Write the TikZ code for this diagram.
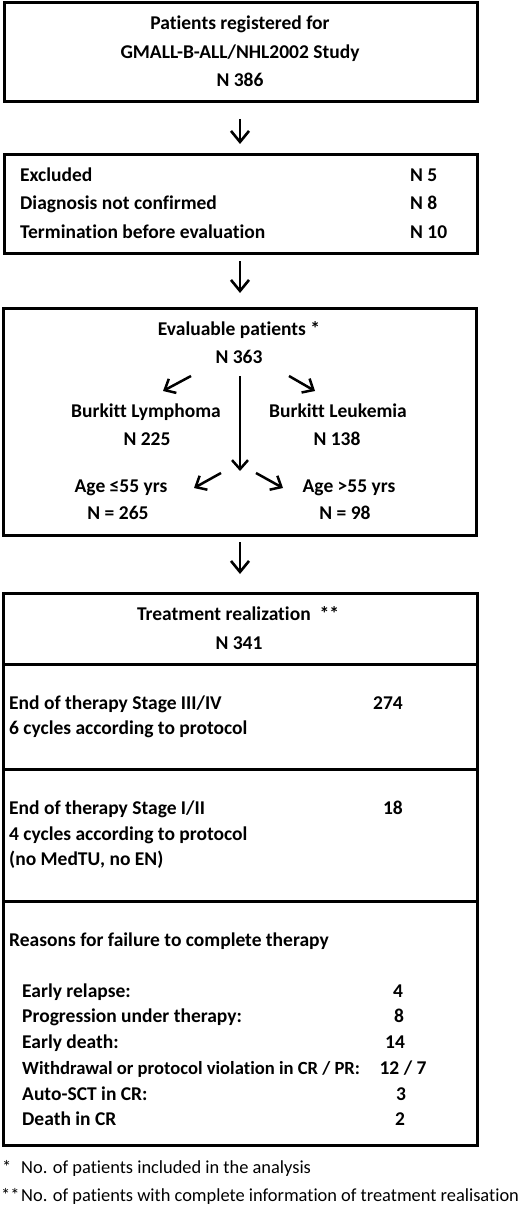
\documentclass[tikz,border=0pt]{standalone}
\usepackage{fontspec}
\setmainfont{Carlito}[RawFeature=-liga]
\usetikzlibrary{arrows.meta}
\begin{document}
\begin{tikzpicture}[x=1pt,y=-1pt,
  box/.style={draw, line width=3pt, rectangle, inner sep=0pt},
  t/.style={font=\fontsize{19.5}{22}\selectfont\bfseries, inner sep=0pt, anchor=base},
  tl/.style={t, anchor=base west},
  tr/.style={t, anchor=base east},
  fn/.style={font=\fontsize{18.4}{22}\selectfont, inner sep=0pt, anchor=base west},
  arr/.style={line width=2.6pt, -{Straight Barb[length=11pt,width=18pt,line width=2.6pt]}},
  darr/.style={line width=2.5pt, -{Straight Barb[length=9pt,width=16pt,line width=2.5pt]}}
]
\useasboundingbox (0,0) rectangle (520,1206);
% Box 1
\node[box, minimum width=473pt, minimum height=99pt] (b1) at (240.5,52.5) {};
\node[t] (b1a) at (240,30) {Patients registered for};
\node[t] (b1b) at (240,59) {GMALL-B-ALL/NHL2002 Study};
\node[t] (b1c) at (240,87) {N 386};
% Box 2
\node[box, minimum width=473pt, minimum height=98pt] (b2) at (240.5,204) {};
\node[tl] (ex) at (20,182) {Excluded};
\node[tl] (dn) at (20,210) {Diagnosis not confirmed};
\node[tl] (tb) at (20,238) {Termination before evaluation};
\node[tl] (exn) at (410,182) {N 5};
\node[tl] (dnn) at (410,210) {N 8};
\node[tl] (tbn) at (410,238) {N 10};
% Box 3
\node[box, minimum width=473pt, minimum height=227pt] (b3) at (240,421.5) {};
\node[t] (ev) at (239,335) {Evaluable patients *};
\node[t] (evn) at (239,363) {N 363};
\node[t] (bly) at (146,417) {Burkitt Lymphoma};
\node[t] (blyn) at (147,445) {N 225};
\node[t] (ble) at (338,417) {Burkitt Leukemia};
\node[t] (blen) at (337,445) {N 138};
\node[t] (ya) at (121,492) {Age ≤55 yrs};
\node[t] (yan) at (118,519) {N = 265};
\node[t] (oa) at (349,492) {Age >55 yrs};
\node[t] (oan) at (345,519) {N = 98};
% Box 4
\node[box, minimum width=474pt, minimum height=552pt] (b4) at (240,869) {};
\coordinate (d1l) at (3,664); \coordinate (d1r) at (477,664);
\coordinate (d2l) at (3,769); \coordinate (d2r) at (477,769);
\coordinate (d3l) at (3,901); \coordinate (d3r) at (477,901);
\draw[line width=3pt] (d1l) -- (d1r);
\draw[line width=3pt] (d2l) -- (d2r);
\draw[line width=3pt] (d3l) -- (d3r);
\node[t] (tr) at (238,620) {Treatment realization \ **};
\node[t] (trn) at (239,649) {N 341};
\node[tl] (s34a) at (9,709) {End of therapy Stage III/IV};
\node[tl] (s34b) at (9,734) {6 cycles according to protocol};
\node[tr] (s34n) at (403,709) {274};
\node[tl] (s12a) at (9,814) {End of therapy Stage I/II};
\node[tl] (s12b) at (9,840) {4 cycles according to protocol};
\node[tl] (s12c) at (9,865) {(no MedTU, no EN)};
\node[tr] (s12n) at (403,814) {18};
\node[tl] (rf) at (9,946) {Reasons for failure to complete therapy};
\node[tl] (r1) at (22,997) {Early relapse:};
\node[tl] (r2) at (22,1022) {Progression under therapy:};
\node[tl] (r3) at (22,1048) {Early death:};
\node[tl, font=\fontsize{18.6}{22}\selectfont\bfseries] (r4) at (22,1074) {Withdrawal or protocol violation in CR / PR:};
\node[tl] (r5) at (22,1100) {Auto-SCT in CR:};
\node[tl] (r6) at (22,1125) {Death in CR};
\node[t] (r1n) at (398,997) {4};
\node[t] (r2n) at (399,1022) {8};
\node[t] (r3n) at (395,1048) {14};
\node[t] (r4n) at (403,1074) {12 / 7};
\node[t] (r5n) at (401,1100) {3};
\node[t] (r6n) at (400,1125) {2};
% Footnotes
\node[fn] (f1s) at (2,1173) {*};
\node[fn] (f1) at (21,1173) {No. of patients included in the analysis};
\node[fn] (f2s) at (1,1201) {**};
\node[fn] (f2) at (21,1201) {No. of patients with complete information of treatment realisation};
% Arrows between boxes
\coordinate (a1s) at (240,119); \coordinate (a1e) at (240,144);
\coordinate (a2s) at (240,261); \coordinate (a2e) at (240,293);
\coordinate (a3s) at (240,542); \coordinate (a3e) at (240,574);
\draw[arr] (a1s) -- (a1e);
\draw[arr] (a2s) -- (a2e);
\draw[arr] (a3s) -- (a3e);
% Arrows inside box 3
\coordinate (l1s) at (191,376); \coordinate (l1e) at (163,391);
\coordinate (r1s) at (289,376); \coordinate (r1e) at (315,391);
\coordinate (vs) at (240,376); \coordinate (ve) at (240,471);
\coordinate (l2s) at (221,473); \coordinate (l2e) at (194,488);
\coordinate (r2s) at (256,473); \coordinate (r2e) at (283,488);
\draw[darr] (l1s) -- (l1e);
\draw[darr] (r1s) -- (r1e);
\draw[darr] (vs) -- (ve);
\draw[darr] (l2s) -- (l2e);
\draw[darr] (r2s) -- (r2e);
\end{tikzpicture}
\end{document}
